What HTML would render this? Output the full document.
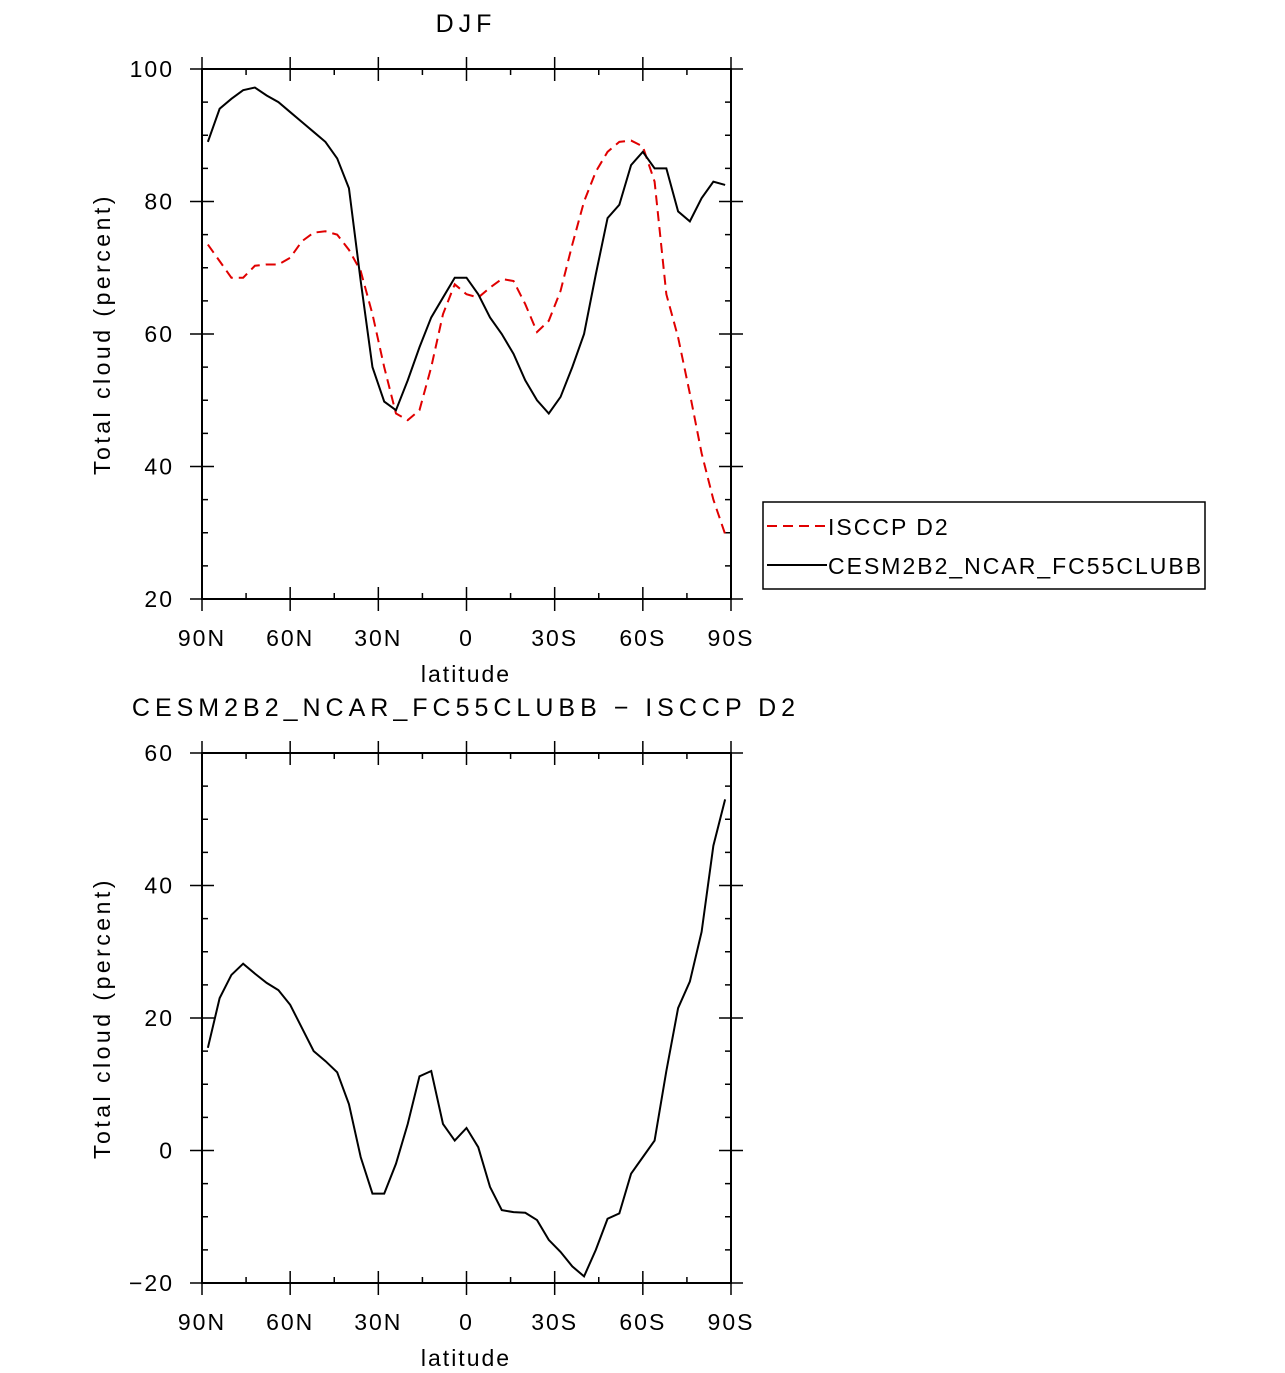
<!DOCTYPE html>
<html><head><meta charset="utf-8"><style>
body{margin:0;background:#fff;width:1285px;height:1373px;overflow:hidden}
svg{display:block}
text{font-family:"Liberation Sans",sans-serif;font-size:23px;fill:#000;letter-spacing:2px}
text.ttl{letter-spacing:5px;font-size:25px}
text.yl{letter-spacing:3.5px}
</style></head><body>
<svg id="c" width="1285" height="1373"></svg>
<script>
const lats=[88,84,80,76,72,68,64,60,56,52,48,44,40,36,32,28,24,20,16,12,8,4,0,-4,-8,-12,-16,-20,-24,-28,-32,-36,-40,-44,-48,-52,-56,-60,-64,-68,-72,-76,-80,-84,-88];
const model=[89,94,95.5,96.8,97.2,96,95,93.5,92,90.5,89,86.5,82,68,55,49.8,48.5,53,58,62.5,65.5,68.5,68.5,66,62.5,60,57,53,50,48,50.5,55,60,69,77.5,79.5,85.5,87.5,85,85,78.5,77,80.5,83,82.5];
const obs=[73.5,71,68.5,68.5,70.3,70.5,70.5,71.5,74,75.3,75.5,75,72.7,69.5,63,55,48,47,48.5,55,63,67.5,66,65.5,67,68.3,68,64.5,60.3,62,66.5,73.5,80,84.5,87.5,89,89.2,88.3,83,66,59.5,51,42,35,29.8];
const diff=[15.5,23,26.5,28.2,26.7,25.3,24.2,22,18.5,15,13.5,11.8,7,-1,-6.5,-6.5,-2,4,11.2,12,4,1.5,3.4,0.5,-5.5,-9,-9.3,-9.4,-10.5,-13.5,-15.3,-17.5,-19,-15,-10.3,-9.5,-3.5,-1,1.5,12,21.5,25.5,33,46,53];
const xTicks=[90,60,30,0,-30,-60,-90];
const xLabels=["90N","60N","30N","0","30S","60S","90S"];
const yTicksTop=[20,40,60,80,100];
const yTicksBot=[-20,0,20,40,60];
const NS="http://www.w3.org/2000/svg";
const svg=document.getElementById('c');
function el(t,a,txt){const e=document.createElementNS(NS,t);for(const k in a)e.setAttribute(k,a[k]);if(txt!==undefined)e.textContent=txt;svg.appendChild(e);return e;}
const X0=202,X1=731;
const xs=l=>X0+(90-l)/180*(X1-X0);
function panel(top,bot,ymin,ymax,yt,name){
  const ys=v=>bot-(v-ymin)/(ymax-ymin)*(bot-top);
  const r=el('rect',{x:X0,y:top,width:X1-X0,height:bot-top,fill:'none',stroke:'#000','stroke-width':2});
  
  for(let v=ymin;v<=ymax;v+=5){const maj=(v%20===0);const L=maj?12:6;const y=ys(v);
    el('line',{x1:X0-(maj?12:0),y1:y,x2:X0+L,y2:y,stroke:'#000','stroke-width':1.5});
    el('line',{x1:X1-L,y1:y,x2:X1+(maj?12:0),y2:y,stroke:'#000','stroke-width':1.5});}
  yt.forEach(v=>{const t=el('text',{x:X0-28,y:ys(v)+8,'text-anchor':'end'},v<0?'\u2212'+(-v):String(v));
    });
  for(let l=90;l>=-90;l-=15){const maj=(l%30===0);const L=maj?12:6;const x=xs(l);
    el('line',{x1:x,y1:bot+(maj?12:0),x2:x,y2:bot-L,stroke:'#000','stroke-width':1.5});
    el('line',{x1:x,y1:top-(maj?12:0),x2:x,y2:top+L,stroke:'#000','stroke-width':1.5});}
  xTicks.forEach((l,i)=>{const t=el('text',{x:xs(l),y:bot+47,'text-anchor':'middle'},xLabels[i]);
    });
  const xt=el('text',{x:466,y:bot+83,'text-anchor':'middle'},'latitude');
  
  const cy=(top+bot)/2;
  const yl=el('text',{x:0,y:0,'text-anchor':'middle','class':'yl',transform:`translate(110,${cy}) rotate(-90)`},'Total cloud (percent)');
  
  return ys;
}
function line(ys,vals,color,dash,name){
  const p=el('polyline',{points:lats.map((l,i)=>xs(l)+','+ys(vals[i])).join(' '),fill:'none',stroke:color,'stroke-width':2,'stroke-dasharray':dash||'none'});
  
}
let t=el('text',{x:466,y:32,'text-anchor':'middle','class':'ttl'},'DJF');

const ys1=panel(69,599,20,100,yTicksTop,'top');
line(ys1,obs,'#e00000','10,6','isccp-line');
line(ys1,model,'#000',null,'model-line');
t=el('text',{x:466,y:716,'text-anchor':'middle','class':'ttl'},'CESM2B2_NCAR_FC55CLUBB \u2212 ISCCP D2');

const ys2=panel(753,1283,-20,60,yTicksBot,'bottom');
line(ys2,diff,'#000',null,'diff-line');
const lg=el('rect',{x:763,y:502,width:442,height:87,fill:'#fff',stroke:'#000','stroke-width':1.5});

el('line',{x1:767,y1:526,x2:827,y2:526,stroke:'#e00000','stroke-width':2,'stroke-dasharray':'10,6'});
el('line',{x1:767,y1:565,x2:827,y2:565,stroke:'#000','stroke-width':2});
t=el('text',{x:828,y:535},'ISCCP D2');
t=el('text',{x:828,y:574},'CESM2B2_NCAR_FC55CLUBB');
</script></body></html>
